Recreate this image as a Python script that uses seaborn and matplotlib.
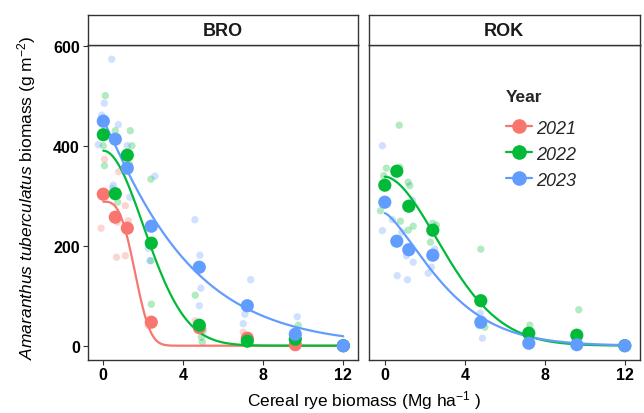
import numpy as np
import pandas as pd
import matplotlib
matplotlib.use("Agg")
import matplotlib.pyplot as plt
import seaborn as sns
from matplotlib.lines import Line2D

sns.set_style("white")
plt.rcParams['font.family'] = ['Liberation Sans', 'DejaVu Sans']
plt.rcParams['mathtext.fontset'] = 'custom'
plt.rcParams['mathtext.rm'] = 'Liberation Sans'
plt.rcParams['mathtext.it'] = 'Liberation Sans:italic'
plt.rcParams['mathtext.bf'] = 'Liberation Sans:bold'

# ---------------- data ----------------
sites = ["BRO", "ROK"]
years = ["2021", "2022", "2023"]
colors = {"2021": "#F8766D", "2022": "#00BA38", "2023": "#619CFF"}
rye_levels = [0, 0.6, 1.2, 2.4, 4.8, 7.2, 9.6, 12]

# treatment means
bro_2021_mean = [303, 257, 235, 47, 36, 15, 2, 0]
bro_2022_mean = [422, 304, 381, 205, 41, 9, 13, 0]
bro_2023_mean = [449, 413, 355, 239, 157, 80, 23, 0]
rok_2022_mean = [321, 349, 279, 231, 90, 25, 21, 0]
rok_2023_mean = [287, 209, 192, 181, 47, 5, 2, 0]

# individual plots (x as displayed, y)
bro_2021_raw_x = [0.06, 0.77, 1.1, -0.11, 1.25, 0.66, 1.1, 0.7, -0.05, 2.25, 2.4, 4.6, 4.8, 7.0, 7.3, 9.6, 12.0]
bro_2021_raw_y = [373, 348, 280, 235, 250, 177, 180, 247, 300, 40, 52, 50, 33, 27, 13, 0, 0]
bro_2022_raw_x = [0.1, 0.6, 1.35, 1.43, 0.0, 0.06, 1.3, 0.72, 0.6, 2.38, 2.38, 2.4, 4.6, 4.9, 4.95, 5.0, 7.3, 7.2, 9.75, 9.6, 12.0]
bro_2022_raw_y = [500, 430, 430, 400, 400, 360, 363, 287, 300, 333, 170, 83, 101, 17, 7, 30, 17, 5, 41, 3, 0]
bro_2023_raw_x = [0.42, 0.05, -0.08, -0.25, 0.75, 0.5, 0.45, 1.33, 1.2, 1.3, 2.58, 2.25, 2.33, 4.58, 4.83, 4.88, 4.8, 7.37, 7.08, 7.0, 9.7, 9.6, 12.0]
bro_2023_raw_y = [573, 485, 461, 402, 442, 321, 315, 297, 400, 383, 339, 195, 170, 252, 181, 115, 80, 132, 63, 44, 58, 27, 0]
rok_2022_raw_x = [0.72, 0.08, -0.05, 0.75, -0.22, 1.17, 1.25, 0.78, 1.17, 1.42, 2.58, 2.28, 2.4, 4.8, 5.0, 4.9, 7.25, 7.2, 9.7, 9.6, 12.0]
rok_2022_raw_y = [441, 355, 340, 357, 270, 327, 320, 249, 231, 239, 241, 207, 245, 193, 37, 45, 41, 15, 72, 5, 0]
rok_2023_raw_x = [-0.12, 0.38, -0.12, 1.38, 0.85, 1.08, 1.42, 0.62, 1.13, 2.17, 2.33, 2.5, 4.77, 4.88, 4.7, 7.2, 9.6, 12.0]
rok_2023_raw_y = [400, 252, 230, 291, 227, 180, 167, 140, 132, 145, 157, 193, 65, 15, 40, 5, 2, 0]

# fitted dose-response (Weibull) parameters: upper limit d, slope b, scale e
fit_site = ["BRO", "BRO", "BRO", "ROK", "ROK"]
fit_year = ["2021", "2022", "2023", "2022", "2023"]
fit_d = [288, 390, 450, 338, 265]
fit_b = [3.1, 1.95, 1.1, 1.8, 1.38]
fit_e = [1.8, 2.9, 4.2, 4.0, 3.53]

# ---------------- tables ----------------
means = {("BRO", "2021"): bro_2021_mean, ("BRO", "2022"): bro_2022_mean,
         ("BRO", "2023"): bro_2023_mean, ("ROK", "2022"): rok_2022_mean,
         ("ROK", "2023"): rok_2023_mean}
raws = {("BRO", "2021"): (bro_2021_raw_x, bro_2021_raw_y),
        ("BRO", "2022"): (bro_2022_raw_x, bro_2022_raw_y),
        ("BRO", "2023"): (bro_2023_raw_x, bro_2023_raw_y),
        ("ROK", "2022"): (rok_2022_raw_x, rok_2022_raw_y),
        ("ROK", "2023"): (rok_2023_raw_x, rok_2023_raw_y)}

mean_rows, raw_rows, fit_rows = [], [], []
for (s, y), vals in means.items():
    for x, v in zip(rye_levels, vals):
        mean_rows.append(dict(site=s, year=y, rye=x, bio=v))
for (s, y), (xs, ys) in raws.items():
    for x, v in zip(xs, ys):
        raw_rows.append(dict(site=s, year=y, rye=x, bio=v))
grid = np.linspace(0, 12, 300)
for s, y, d, b, e in zip(fit_site, fit_year, fit_d, fit_b, fit_e):
    pred = d * np.exp(-(grid / e) ** b)
    for x, v in zip(grid, pred):
        fit_rows.append(dict(site=s, year=y, rye=x, bio=v))
df_mean = pd.DataFrame(mean_rows)
df_raw = pd.DataFrame(raw_rows)
df_fit = pd.DataFrame(fit_rows)

# ---------------- figure ----------------
W, H = 644, 414
fig = plt.figure(figsize=(W / 100, H / 100), dpi=100)
panel_left = {"BRO": 87.5, "ROK": 369}
pw = 270.5
ptop, pbot = 45.7, 360.5
strip_top = 15.5

axes = {}
for s in sites:
    l = panel_left[s]
    ax = fig.add_axes([l / W, 1 - pbot / H, pw / W, (pbot - ptop) / H])
    sax = fig.add_axes([l / W, 1 - ptop / H, pw / W, (ptop - strip_top) / H])
    sax.set_xticks([]); sax.set_yticks([])
    for sp in sax.spines.values():
        sp.set_color("#333333"); sp.set_linewidth(1.0)
    sax.text(0.5, 0.47, s, ha="center", va="center", fontsize=13, fontweight="bold",
             color="#1a1a1a", transform=sax.transAxes)
    axes[s] = ax

    sub_raw = df_raw[df_raw.site == s]
    sub_mean = df_mean[df_mean.site == s]
    sub_fit = df_fit[df_fit.site == s]
    pal = {y: colors[y] for y in years if y in set(sub_raw.year)}
    order = [y for y in years if y in pal]

    sns.scatterplot(data=sub_raw, x="rye", y="bio", hue="year", hue_order=order, palette=pal,
                    s=28, alpha=0.3, linewidth=0, ax=ax, legend=False, zorder=2)
    sns.lineplot(data=sub_fit, x="rye", y="bio", hue="year", hue_order=order, palette=pal,
                 linewidth=1.6, ax=ax, legend=False, zorder=3)
    sns.scatterplot(data=sub_mean, x="rye", y="bio", hue="year", hue_order=order, palette=pal,
                    s=90, alpha=1, linewidth=0, ax=ax, legend=False, zorder=4)

    ax.set_xlim(-0.79, 12.735)
    ax.set_ylim(-27.6, 602)
    ax.set_xticks([0, 4, 8, 12])
    ax.set_yticks([0, 200, 400, 600])
    ax.set_xlabel(""); ax.set_ylabel("")
    for sp in ax.spines.values():
        sp.set_visible(True); sp.set_color("#333333"); sp.set_linewidth(1.0)
    ax.tick_params(axis="both", direction="out", length=3.5, width=0.8, color="#333333",
                   labelsize=11.5, pad=2, bottom=True, left=True)
    for lab in ax.get_xticklabels() + ax.get_yticklabels():
        lab.set_fontweight("bold")
        lab.set_color("black")
    ax.grid(False)

axes["ROK"].tick_params(axis="y", left=False, labelleft=False)

fig.text(364 / W, 1 - 401 / H, r"Cereal rye biomass (Mg ha$^{-1}$ )", ha="center", va="center",
         fontsize=12.5, color="black")
fig.text(27 / W, 1 - 198 / H, r"$\it{Amaranthus\ tuberculatus}$ biomass (g m$^{-2}$)",
         ha="center", va="center", rotation=90, fontsize=12.5, color="black")

handles = [Line2D([0], [0], color=colors[y], marker="o", markersize=9.5, linewidth=1.6) for y in years]
leg = axes["ROK"].legend(handles, years, title="Year", frameon=False, loc="upper left",
                         bbox_to_anchor=((499 - 369) / pw, (pbot - 82.5) / (pbot - ptop)),
                         bbox_transform=axes["ROK"].transAxes,
                         prop={"style": "italic", "size": 13}, handlelength=1.4,
                         handletextpad=0.25, labelspacing=0.5, borderaxespad=0)
leg.get_title().set_fontweight("bold")
leg.get_title().set_fontsize(12.5)
leg._legend_box.align = "left"
leg._legend_box.sep = 11.5

fig.savefig("out.png", dpi=100)
